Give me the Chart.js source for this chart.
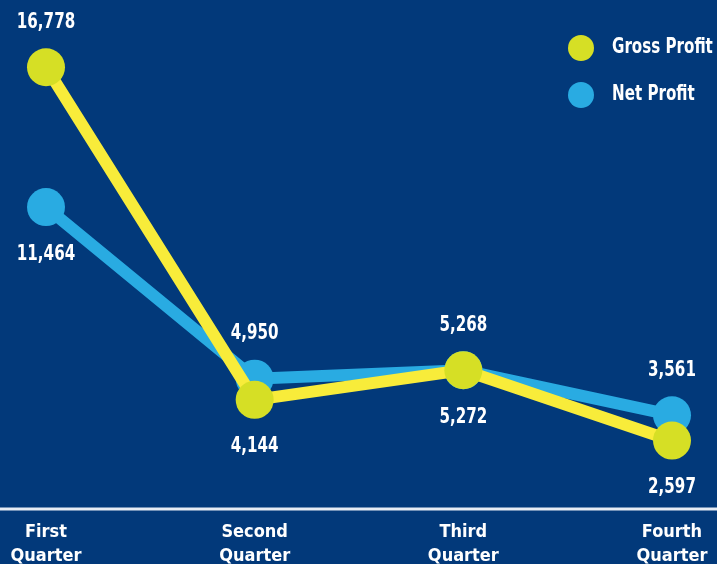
<!DOCTYPE html>
<html>
<head>
<meta charset="utf-8">
<script src="https://cdn.jsdelivr.net/npm/chart.js@4.4.1/dist/chart.umd.min.js"></script>
<style>
  html, body { margin: 0; padding: 0; background: #02397a; overflow: hidden; }
  #wrap { width: 717px; height: 580px; }
</style>
</head>
<body>
<div id="wrap"><canvas id="profitChart"></canvas></div>
<script>
var quarters = [["First", "Quarter"], ["Second", "Quarter"], ["Third", "Quarter"], ["Fourth", "Quarter"]];
var grossProfit = [16778, 4144, 5272, 2597];
var netProfit = [11464, 4950, 5268, 3561];
// where each value label sits relative to its point
var grossLabelSide = ["above", "below", "below", "below"];
var netLabelSide = ["below", "above", "above", "above"];

var fontFam = "'Liberation Sans Narrow', 'DejaVu Sans Condensed', 'Arial Narrow', sans-serif";

var yellowLine = "#f8ec3a";
var yellowDot = "#d6df25";
var blue = "#29abe2";

// squeeze text a little so it reads like a condensed face
function narrowText(ctx, text, x, y) {
    var w = ctx.measureText(text).width;
    ctx.fillText(text, x, y, w * 0.8);
}

// value labels next to each point
var valueLabels = {
    id: "valueLabels",
    afterDatasetsDraw: function(chart) {
        var ctx = chart.ctx;
        ctx.save();
        ctx.font = "bold 21px " + fontFam;
        ctx.fillStyle = "#ffffff";
        ctx.textAlign = "center";
        ctx.textBaseline = "middle";
        chart.data.datasets.forEach(function(ds, di) {
            var meta = chart.getDatasetMeta(di);
            meta.data.forEach(function(pt, i) {
                var side = ds.labelSide[i];
                var y = side == "above" ? pt.y - 45 : pt.y + 47;
                narrowText(ctx, ds.data[i].toLocaleString("en-US"), pt.x, y);
            });
        });
        ctx.restore();
    }
};

// legend in the top right corner + full width base line
var decor = {
    id: "decor",
    afterDraw: function(chart) {
        var ctx = chart.ctx;
        ctx.save();
        var base = chart.scales.y.getPixelForValue(0);
        ctx.strokeStyle = "#e6ecf4";
        ctx.lineWidth = 3;
        ctx.beginPath();
        ctx.moveTo(0, base);
        ctx.lineTo(chart.width, base);
        ctx.stroke();

        ctx.font = "bold 21px " + fontFam;
        ctx.textAlign = "left";
        ctx.textBaseline = "middle";
        chart.data.datasets.forEach(function(ds, i) {
            var cy = 48 + i * 47;
            ctx.fillStyle = ds.pointBackgroundColor;
            ctx.beginPath();
            ctx.arc(chart.width - 136, cy, 13, 0, Math.PI * 2);
            ctx.fill();
            ctx.fillStyle = "#ffffff";
            narrowText(ctx, ds.label, chart.width - 105, cy);
        });
        ctx.restore();
    }
};

var ctx = document.getElementById("profitChart").getContext("2d");
var chart = new Chart(ctx, {
    type: "line",
    data: {
        labels: quarters,
        datasets: [{
            label: "Gross Profit",
            data: grossProfit,
            labelSide: grossLabelSide,
            borderColor: yellowLine,
            backgroundColor: yellowLine,
            pointBackgroundColor: yellowDot,
            pointBorderWidth: 0,
            pointRadius: 19,
            pointHoverRadius: 19,
            borderWidth: 12,
            tension: 0,
            clip: false
        }, {
            label: "Net Profit",
            data: netProfit,
            labelSide: netLabelSide,
            borderColor: blue,
            backgroundColor: blue,
            pointBackgroundColor: blue,
            pointBorderWidth: 0,
            pointRadius: 19,
            pointHoverRadius: 19,
            borderWidth: 12,
            tension: 0,
            clip: false
        }]
    },
    options: {
        responsive: true,
        maintainAspectRatio: false,
        animation: false,
        layout: { padding: { left: 46, right: 45, top: 35, bottom: 0 } },
        plugins: {
            legend: { display: false },
            tooltip: { enabled: false }
        },
        scales: {
            x: {
                offset: false,
                grid: { display: false },
                border: { display: false },
                afterFit: function(scale) { scale.height = 71; },
                ticks: {
                    color: "#ffffff",
                    padding: 3,
                    maxRotation: 0,
                    font: { family: fontFam, size: 18, weight: "bold", lineHeight: 1.33 }
                }
            },
            y: {
                display: false,
                min: 0,
                max: 18000
            }
        }
    },
    plugins: [valueLabels, decor]
});
</script>
</body>
</html>
